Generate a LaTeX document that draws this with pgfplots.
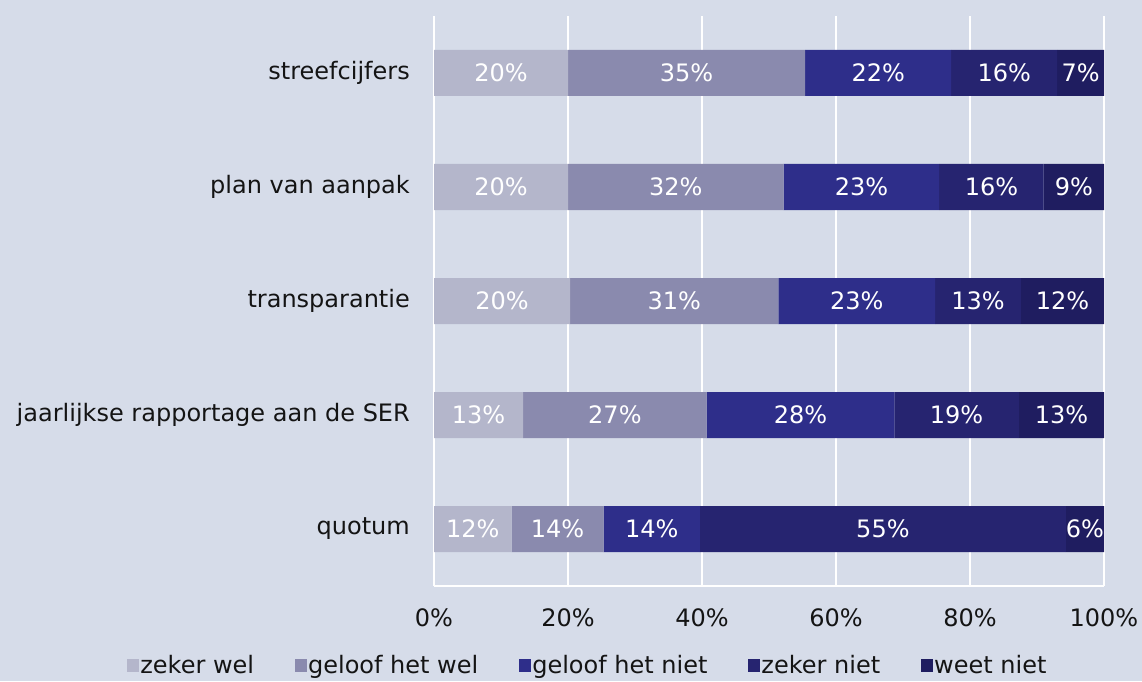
\documentclass[border=0pt]{standalone}
\usepackage{pgfplots}
\pgfplotsset{compat=1.18}
\usepackage{pgfplotstable}
\usepackage{fontspec}
\setmainfont{DejaVu Sans}
\definecolor{bgc}{RGB}{214,220,233}
\definecolor{cA}{RGB}{180,182,203}
\definecolor{cB}{RGB}{138,138,174}
\definecolor{cC}{RGB}{46,46,138}
\definecolor{cD}{RGB}{38,36,112}
\definecolor{cE}{RGB}{31,29,96}
\definecolor{txt}{RGB}{20,20,20}
\newcommand\ff{\fontsize{24}{29}\selectfont}
\pgfplotstableread{
pos a b c d e
4 20.0 35.4 21.8 15.8 7.0
3 20.0 32.2 23.2 15.6 9.0
2 20.3 31.1 23.4 12.8 12.4
1 13.3 27.4 28.0 18.6 12.7
0 11.6 13.7 14.4 54.6 5.7
}\data
\begin{document}
\begin{tikzpicture}
\fill[bgc] (0pt,0pt) rectangle (1142pt,681pt);
\begin{axis}[
  at={(434pt,95pt)}, anchor=south west,
  scale only axis, width=670pt, height=570pt,
  xbar stacked, bar width=46pt,
  xmin=0, xmax=100, ymin=-0.5, ymax=4.5,
  xtick={0,20,40,60,80,100},
  xticklabels={0\%,20\%,40\%,60\%,80\%,100\%},
  ytick={0,1,2,3,4},
  yticklabels={quotum,jaarlijkse rapportage aan de SER,transparantie,plan van aanpak,streefcijfers},
  xmajorgrids, major grid style={white, line width=1.5pt},
  axis lines*=left, axis line style={white, line width=1.5pt},
  tick style={draw=none}, major tick length=0pt,
  tick label style={font=\ff, text=txt},
  yticklabel style={inner sep=0pt, xshift=-24pt},
  xticklabel style={inner sep=0pt, yshift=-22pt},
  visualization depends on={rawx \as \segw},
  nodes near coords={\pgfmathprintnumber[fixed,precision=0,assume math mode=true]{\segw}\%},
  every node near coord/.style={anchor=center, text=white, font=\ff},
  legend columns=5,
  legend style={at={(0.229,-0.1386)}, anchor=center, draw=none, fill=none,
    font=\ff, text=txt, inner sep=0pt,
    nodes={inner sep=1.5pt},
    /tikz/every even column/.append style={column sep=39pt}},
  legend image code/.code={\fill[#1] (0pt,-6.5pt) rectangle (12pt,6.5pt);},
]
\addplot[fill=cA, draw=none] table[x=a, y=pos]{\data};
\addplot[fill=cB, draw=none] table[x=b, y=pos]{\data};
\addplot[fill=cC, draw=none] table[x=c, y=pos]{\data};
\addplot[fill=cD, draw=none] table[x=d, y=pos]{\data};
\addplot[fill=cE, draw=none] table[x=e, y=pos]{\data};
\legend{zeker wel,geloof het wel,geloof het niet,zeker niet,weet niet}
\end{axis}
\end{tikzpicture}
\end{document}
